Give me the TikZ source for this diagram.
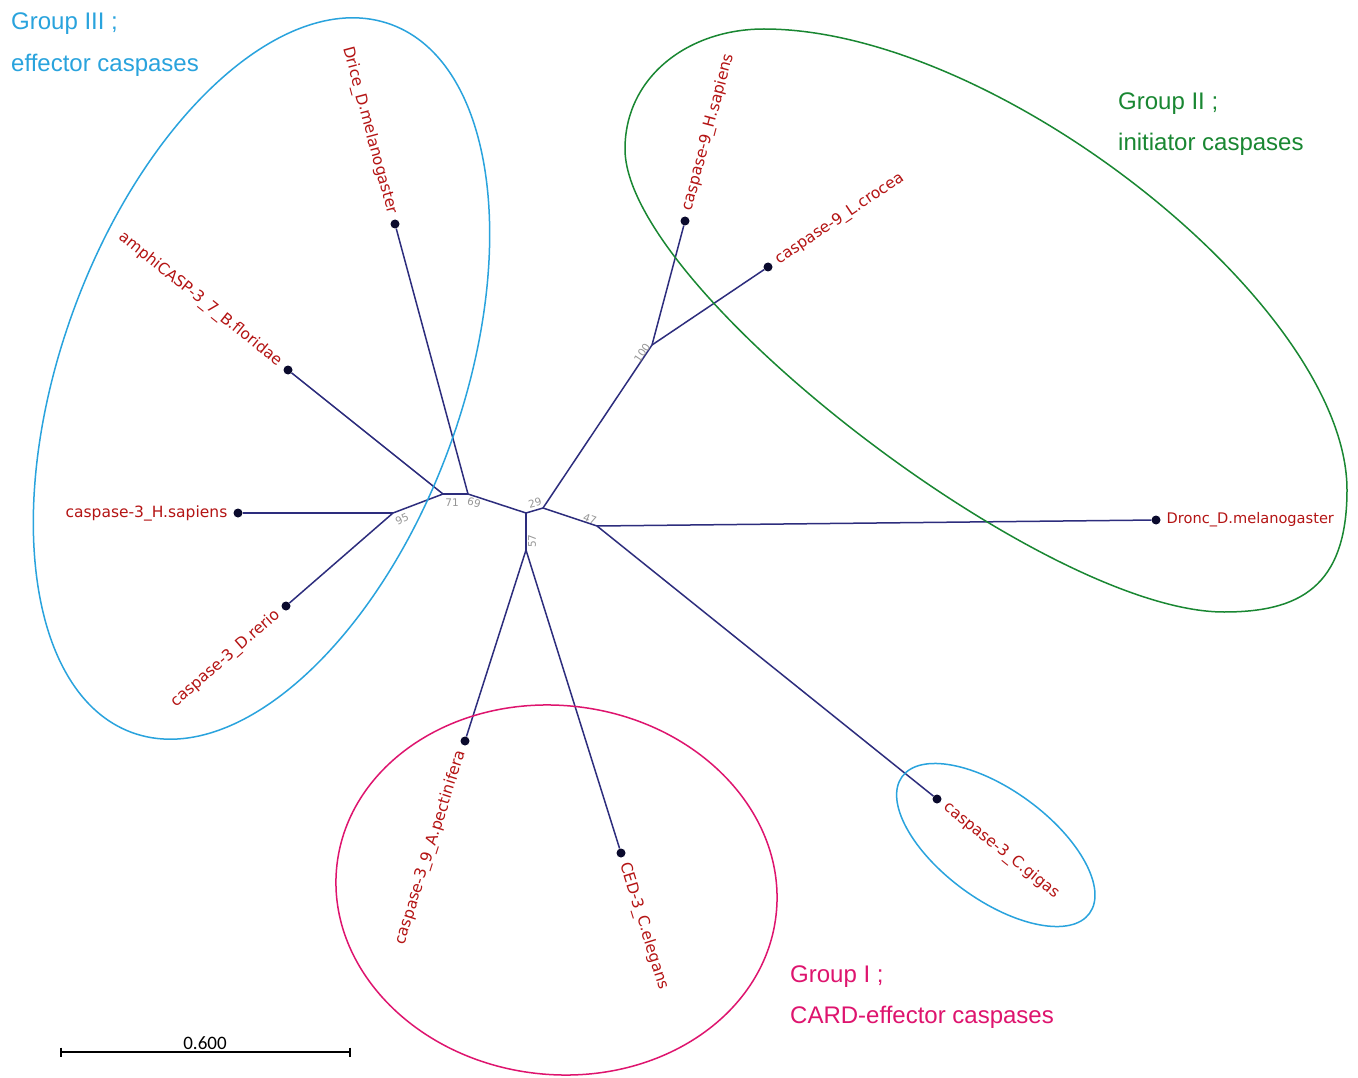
\documentclass[tikz,border=0pt]{standalone}
\usepackage{fontspec}
\usetikzlibrary{shapes.geometric}
\newfontfamily\leaffont{DejaVu Sans}
\newfontfamily\grpfont{Liberation Sans}
\newfontfamily\barfont{Carlito}
\definecolor{branch}{RGB}{45,45,125}
\definecolor{dotc}{RGB}{10,10,45}
\definecolor{leafc}{RGB}{180,20,20}
\definecolor{bootc}{RGB}{150,150,150}
\definecolor{gIIIc}{RGB}{41,163,221}
\definecolor{gIIc}{RGB}{25,135,50}
\definecolor{gIc}{RGB}{222,20,110}
\begin{document}
\begin{tikzpicture}[x=1pt,y=-1pt,
  br/.style={draw=branch, line width=1.5pt},
  leafdot/.style={circle, fill=dotc, inner sep=0pt, minimum size=9pt},
  leaf/.style={text=leafc, font=\leaffont\fontsize{15.5}{18}\selectfont, inner ysep=0pt, inner xsep=10.5pt},
  boot/.style={text=bootc, font=\leaffont\fontsize{10.5}{12}\selectfont, inner sep=0pt},
  grp/.style={font=\grpfont\fontsize{24}{28}\selectfont, anchor=base west, inner sep=0pt},
  ell/.style={ellipse, line width=1.5pt, inner sep=0pt}
]
\fill[white] (0,0) rectangle (1358,1078);
\useasboundingbox (0,0) rectangle (1358,1078);

% internal nodes
\coordinate (n95) at (393,513);
\coordinate (n71) at (443,494);
\coordinate (n69) at (468,494);
\coordinate (nc) at (526,513);
\coordinate (n29) at (543,508);
\coordinate (n57) at (526,550);
\coordinate (n47) at (597,526);
\coordinate (n100) at (652,345);

% leaves
\node[leafdot] (drice) at (395,224) {};
\node[leafdot] (amphi) at (288,370) {};
\node[leafdot] (hs3) at (238,513) {};
\node[leafdot] (dr3) at (286,606) {};
\node[leafdot] (hs9) at (685,221) {};
\node[leafdot] (lc9) at (768,267) {};
\node[leafdot] (dronc) at (1156,520) {};
\node[leafdot] (cg3) at (937,799) {};
\node[leafdot] (ced3) at (621,853) {};
\node[leafdot] (ap39) at (465,741) {};

% branches
\draw[br] (hs3) -- (n95);
\draw[br] (dr3) -- (n95);
\draw[br] (n95) -- (n71);
\draw[br] (amphi) -- (n71);
\draw[br] (n71) -- (n69);
\draw[br] (drice) -- (n69);
\draw[br] (n69) -- (nc);
\draw[br] (nc) -- (n29);
\draw[br] (nc) -- (n57);
\draw[br] (n57) -- (ap39);
\draw[br] (n57) -- (ced3);
\draw[br] (n29) -- (n100);
\draw[br] (n100) -- (hs9);
\draw[br] (n100) -- (lc9);
\draw[br] (n29) -- (n47);
\draw[br] (n47) -- (dronc);
\draw[br] (n47) -- (cg3);

% leaf labels
\node[leaf, anchor=east, rotate=-74.9] (tdrice) at (drice.center) {Drice\_D.melanogaster};
\node[leaf, anchor=east, rotate=-38.7] (tamphi) at (amphi.center) {amphiCASP-3\_7\_B.floridae};
\node[leaf, anchor=east] (ths3) at (hs3.center) {caspase-3\_H.sapiens};
\node[leaf, anchor=east, rotate=41] (tdr3) at (dr3.center) {caspase-3\_D.rerio};
\node[leaf, anchor=west, rotate=75.1] (ths9) at (hs9.center) {caspase-9\_H.sapiens};
\node[leaf, anchor=west, rotate=33.9] (tlc9) at (lc9.center) {caspase-9\_L.crocea};
\node[leaf, anchor=west, font=\leaffont\fontsize{14.6}{18}\selectfont] (tdronc) at (dronc.center) {Dronc\_D.melanogaster};
\node[leaf, anchor=west, rotate=-38.8] (tcg3) at (cg3.center) {caspase-3\_C.gigas};
\node[leaf, anchor=west, rotate=-72.6] (tced3) at (ced3.center) {CED-3\_C.elegans};
\node[leaf, anchor=east, rotate=72.3] (tap39) at (ap39.center) {caspase-3\_9\_A.pectinifera};

% bootstrap values
\node[boot, rotate=25] (b95) at (402,519) {95};
\node[boot] (b71) at (452,503) {71};
\node[boot, rotate=-15] (b69) at (474,503) {69};
\node[boot, rotate=15] (b29) at (535,503) {29};
\node[boot, rotate=-20] (b47) at (590,519) {47};
\node[boot, rotate=90] (b57) at (532,541) {57};
\node[boot, rotate=56] (b100) at (642,353) {100};

% group outlines
\node[ell, draw=gIIIc, minimum width=754pt, minimum height=400pt, rotate=69.9] (eIII) at (261.5,378.5) {};
\node[ell, draw=gIc, minimum width=442pt, minimum height=369pt, rotate=-6.6] (eI) at (556.5,890) {};
\node[ell, draw=gIIIc, minimum width=232pt, minimum height=110pt, rotate=-36.1] (eIIIb) at (995.8,845) {};
\coordinate (gL) at (625,149);
\coordinate (gT) at (764,29);
\coordinate (gR) at (1347,490);
\coordinate (gB) at (1224,612);
\draw[draw=gIIc, line width=1.5pt]
  (gL) .. controls (625,77) and (688,29) .. (gT)
       .. controls (997,29) and (1347,306) .. (gR)
       .. controls (1347,588) and (1298,612) .. (gB)
       .. controls (1044,612) and (625,288) .. (gL) -- cycle;

% group labels
\node[grp, text=gIIIc] (g3a) at (11,30) {Group III ;};
\node[grp, text=gIIIc] (g3b) at (11,72) {effector caspases};
\node[grp, text=gIIc] (g2a) at (1118,110) {Group II ;};
\node[grp, text=gIIc] (g2b) at (1118,151) {initiator caspases};
\node[grp, text=gIc] (g1a) at (790,982) {Group I ;};
\node[grp, text=gIc] (g1b) at (790,1023) {CARD-effector caspases};

% scale bar
\coordinate (sbl) at (61,1052);
\coordinate (sbr) at (350,1052);
\draw[line width=1.2pt] (sbl) -- (sbr);
\draw[line width=1.2pt] (sbl) ++(0,-4.5) -- ++(0,9);
\draw[line width=1.2pt] (sbr) ++(0,-4.5) -- ++(0,9);
\node[font=\barfont\fontsize{19}{22}\selectfont, anchor=base, inner sep=0pt] (sblab) at (205,1049) {0.600};
\end{tikzpicture}
\end{document}
